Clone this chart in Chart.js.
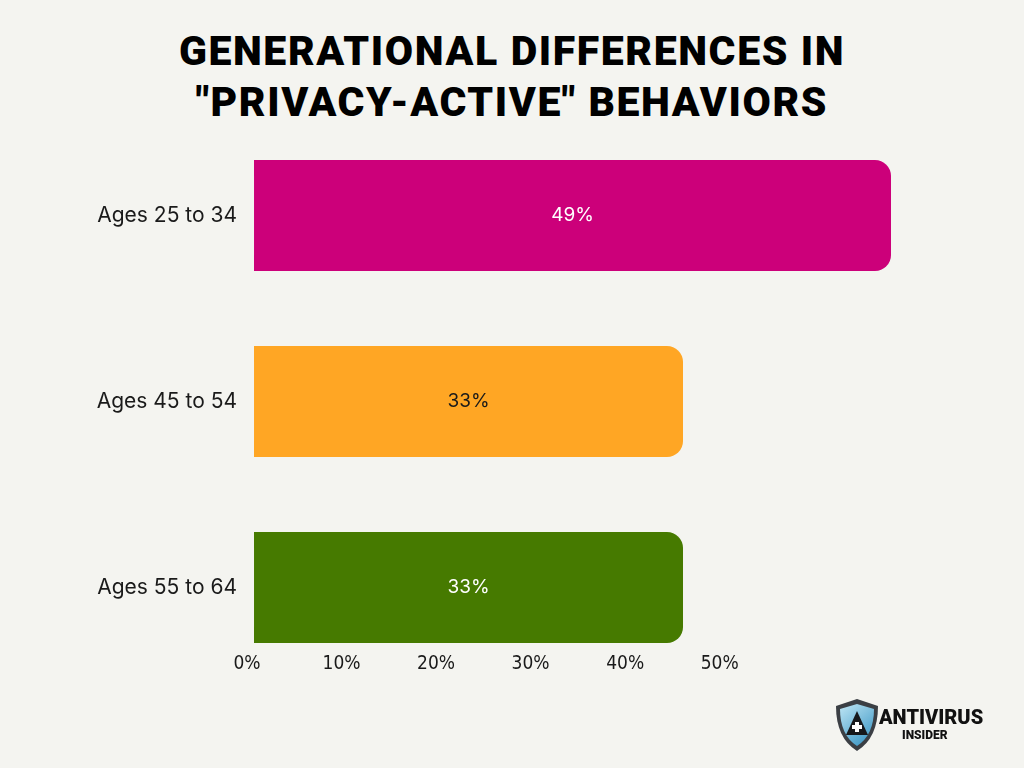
<!DOCTYPE html>
<html>
<head>
<meta charset="utf-8">
<script src="https://cdn.jsdelivr.net/npm/chart.js@4"></script>
<style>
  html, body { margin: 0; padding: 0; background: #f4f4f0; }
  #wrap { position: relative; width: 1024px; height: 768px; }
  h1 {
    position: absolute; left: 0; top: 26px; width: 1024px; margin: 0;
    text-align: center; font-family: 'Roboto', sans-serif; font-weight: 900;
    font-size: 41px; line-height: 51px; color: #000; letter-spacing: 1.6px;
  }
  canvas { position: absolute; left: 0; top: 0; }
</style>
</head>
<body>
<div id="wrap">
  <h1>GENERATIONAL DIFFERENCES IN<br>"PRIVACY-ACTIVE" BEHAVIORS</h1>
  <canvas id="barChart" width="1024" height="768"></canvas>
</div>
<script>
const ageGroups = ['Ages 25 to 34', 'Ages 45 to 54', 'Ages 55 to 64'];
const privacyActive = [49, 33, 33];
const tickValues = [0, 10, 20, 30, 40, 50];
const tickLabels = ['0%', '10%', '20%', '30%', '40%', '50%'];

const barColors = ['#cc007a', '#ffa624', '#467a00'];
const valueColors = ['#ffffff', '#1a1a1a', '#ffffff'];

// value labels in the middle of each bar
const valueLabels = {
    id: 'valueLabels',
    afterDatasetsDraw(chart) {
        const ctx = chart.ctx;
        const meta = chart.getDatasetMeta(0);
        ctx.save();
        ctx.font = '19px Inter, sans-serif';
        ctx.textAlign = 'center';
        ctx.textBaseline = 'middle';
        meta.data.forEach(function (bar, i) {
            ctx.fillStyle = valueColors[i];
            ctx.fillText(privacyActive[i] + '%', (bar.x + bar.base) / 2, bar.y);
        });
        ctx.restore();
    }
};

// small brand mark bottom right
const brandLogo = {
    id: 'brandLogo',
    afterDraw(chart) {
        const ctx = chart.ctx;
        ctx.save();
        // shield
        ctx.beginPath();
        ctx.moveTo(857, 699);
        ctx.lineTo(878, 706);
        ctx.quadraticCurveTo(878, 738, 857, 751);
        ctx.quadraticCurveTo(836, 738, 836, 706);
        ctx.closePath();
        ctx.fillStyle = '#3b3f44';
        ctx.fill();
        ctx.beginPath();
        ctx.moveTo(857, 704);
        ctx.lineTo(874, 709);
        ctx.quadraticCurveTo(874, 735, 857, 746);
        ctx.quadraticCurveTo(840, 735, 840, 709);
        ctx.closePath();
        const g = ctx.createLinearGradient(840, 704, 874, 746);
        g.addColorStop(0, '#bfe6f5');
        g.addColorStop(1, '#2f8fc0');
        ctx.fillStyle = g;
        ctx.fill();
        // "A" mark
        ctx.beginPath();
        ctx.moveTo(857, 711);
        ctx.lineTo(868, 735);
        ctx.lineTo(846, 735);
        ctx.closePath();
        ctx.fillStyle = '#16181b';
        ctx.fill();
        ctx.fillStyle = '#ffffff';
        ctx.fillRect(855, 722, 4, 10);
        ctx.fillRect(852, 725, 10, 4);
        // words
        ctx.fillStyle = '#111111';
        ctx.textAlign = 'left';
        ctx.textBaseline = 'alphabetic';
        ctx.font = '900 20px Roboto, sans-serif';
        ctx.fillText('ANTIVIRUS', 879, 724);
        ctx.font = '900 12px Roboto, sans-serif';
        ctx.fillText('INSIDER', 902, 739);
        ctx.restore();
    }
};

const ctx = document.getElementById('barChart').getContext('2d');
const chart = new Chart(ctx, {
    type: 'bar',
    data: {
        labels: ageGroups,
        datasets: [{
            data: privacyActive,
            backgroundColor: barColors,
            borderRadius: 16,
            borderSkipped: 'start',
            categoryPercentage: 1,
            barPercentage: 0.597,
            xAxisID: 'x'
        }]
    },
    options: {
        indexAxis: 'y',
        responsive: false,
        animation: false,
        layout: { padding: { top: 122.5, right: 120, bottom: 87.5, left: 0 } },
        plugins: {
            legend: { display: false },
            tooltip: { enabled: false }
        },
        scales: {
            // scale the bars sit on (hidden)
            x: {
                type: 'linear',
                display: false,
                min: -0.54,
                max: 50
            },
            // scale that carries the printed percent ticks
            xTicks: {
                type: 'linear',
                position: 'bottom',
                min: 0,
                max: 69.5,
                grid: { display: false, drawTicks: false },
                border: { display: false },
                afterBuildTicks(scale) {
                    scale.ticks = tickValues.map(v => ({ value: v }));
                },
                afterFit(scale) { scale.height = 0; },
                ticks: {
                    mirror: true,
                    padding: 5,
                    color: '#1a1a1a',
                    font: { family: "'DejaVu Sans Condensed', sans-serif", size: 19 },
                    callback: function (value) {
                        const i = tickValues.indexOf(value);
                        return i >= 0 ? tickLabels[i] : '';
                    }
                }
            },
            y: {
                grid: { display: false, drawTicks: false },
                border: { display: false },
                afterFit(scale) { scale.width = 247; },
                ticks: {
                    padding: 10,
                    color: '#1a1a1a',
                    font: { family: 'Inter, sans-serif', size: 21 }
                }
            }
        }
    },
    plugins: [valueLabels, brandLogo]
});
</script>
</body>
</html>
